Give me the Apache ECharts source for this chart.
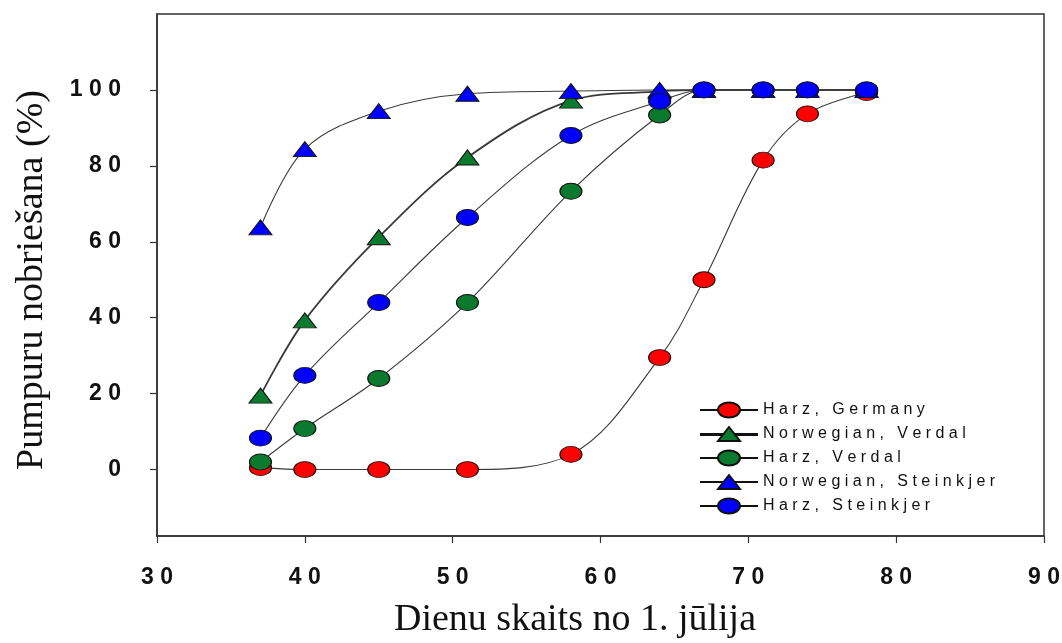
<!DOCTYPE html>
<html>
<head>
<meta charset="utf-8">
<script src="https://cdn.jsdelivr.net/npm/echarts@6/dist/echarts.min.js"></script>
<style>
  html, body { margin: 0; padding: 0; background: #fff; }
  #main { width: 1062px; height: 643px; }
</style>
</head>
<body>
<div id="main"></div>
<script>
// dienas no 1. jūlija
const days = [37, 40, 45, 51, 58, 64, 67, 71, 74, 78]
const harzGermany = [0.5, 0, 0, 0, 4, 29.5, 50, 81.5, 93.7, 99.3]
const norwegianVerdal = [19.5, 39.3, 61.2, 82.2, 97.2, 99.6, 100, 100, 100, 100]
const harzVerdal = [2, 10.8, 24, 44, 73.3, 93.4, 100, 100, 100, 100]
const norwegianSteinkjer = [63.8, 84.4, 94.4, 99, 99.7, 100, 100, 100, 100, 100]
const harzSteinkjer = [8.3, 24.8, 44, 66.4, 88, 97, 100, 100, 100, 100]
const yTicks = [0, 20, 40, 60, 80, 100]

const spaced = s => String(s).split('').join(' ')
const pairs = vals => days.map((d, i) => [d, vals[i]])

// legendas ikonas 58x16: līnija + elipse / trijstūris
const ellipseIcon = 'path://M29,0 M29,16 M0,8 L18,8 M40,8 L58,8 M18,8 A11,7.5 0 1,1 40,8 A11,7.5 0 1,1 18,8 Z'
const triangleIcon = 'path://M29,0 M29,16 M0,8 L23.5,8 M34.5,8 L58,8 M18,15 L29,1 L40,15 Z'
const triangleIconBold = 'path://M29,0 M29,16 M0,8 L23.5,8 M34.5,8 L58,8 M0,9 L22.7,9 M35.3,9 L58,9 M18,15 L29,1 L40,15 Z'

const mkSeries = (name, vals, symbol, color, lineWidth) => ({
  name,
  type: 'line',
  data: pairs(vals),
  smooth: 0.35,
  symbol,
  symbolSize: symbol === 'triangle' ? [23, 15] : [22, 16],
  showAllSymbol: true,
  lineStyle: { color: '#3a3a3a', width: lineWidth },
  itemStyle: { color, borderColor: '#111', borderWidth: 1, opacity: 1 },
  emphasis: { disabled: true },
  animation: false
})

const chart = echarts.init(document.getElementById('main'))
const option = {
  backgroundColor: '#fff',
  animation: false,
  grid: {
    left: 157, right: 18, top: 14, bottom: 107,
    show: true, borderColor: '#333', borderWidth: 1.5,
    outerBoundsMode: 'none'
  },
  legend: {
    orient: 'vertical',
    left: 694,
    top: 396,
    itemWidth: 58,
    itemHeight: 16,
    itemGap: 6,
    symbolKeepAspect: false,
    data: [
      { name: 'Harz, Germany', icon: ellipseIcon },
      { name: 'Norwegian, Verdal', icon: triangleIconBold },
      { name: 'Harz, Verdal', icon: ellipseIcon },
      { name: 'Norwegian, Steinkjer', icon: triangleIcon },
      { name: 'Harz, Steinkjer', icon: ellipseIcon }
    ],
    textStyle: { fontFamily: 'Liberation Sans', fontSize: 16, color: '#111' },
    formatter: name => spaced(name)
  },
  xAxis: {
    type: 'value',
    min: 30, max: 90, interval: 10,
    axisLine: { onZero: false, lineStyle: { color: '#333', width: 1.5 } },
    axisTick: { show: true, length: 7, lineStyle: { color: '#333', width: 1.2 } },
    axisLabel: {
      margin: 30,
      fontFamily: 'Liberation Sans', fontWeight: 'bold', fontSize: 23, color: '#111',
      formatter: v => spaced(v)
    },
    splitLine: { show: false }
  },
  yAxis: {
    type: 'value',
    min: -17.5, max: 120,
    axisLine: { show: true, onZero: false, lineStyle: { color: '#333', width: 1.5 } },
    axisTick: { show: true, length: 7, customValues: yTicks, lineStyle: { color: '#333', width: 1.2 } },
    axisLabel: {
      margin: 36,
      customValues: yTicks,
      fontFamily: 'Liberation Sans', fontWeight: 'bold', fontSize: 23, color: '#111',
      formatter: v => spaced(v)
    },
    splitLine: { show: false }
  },
  graphic: [
    {
      type: 'text', x: 575, y: 620,
      style: {
        text: 'Dienu skaits no 1. jūlija',
        font: '38px "Liberation Serif"', fill: '#111',
        textAlign: 'center', textVerticalAlign: 'middle'
      }
    },
    {
      type: 'text', x: 32, y: 280, rotation: Math.PI / 2,
      style: {
        text: 'Pumpuru nobriešana (%)',
        font: '38px "Liberation Serif"', fill: '#111',
        textAlign: 'center', textVerticalAlign: 'middle'
      }
    }
  ],
  series: [
    mkSeries('Harz, Germany', harzGermany, 'circle', '#ff0000', 1.1),
    mkSeries('Norwegian, Verdal', norwegianVerdal, 'triangle', '#0b7a2e', 1.8),
    mkSeries('Harz, Verdal', harzVerdal, 'circle', '#0b7a2e', 1.1),
    mkSeries('Norwegian, Steinkjer', norwegianSteinkjer, 'triangle', '#0000ff', 1.1),
    mkSeries('Harz, Steinkjer', harzSteinkjer, 'circle', '#0000ff', 1.1)
  ]
}
option && chart.setOption(option)
</script>
</body>
</html>
